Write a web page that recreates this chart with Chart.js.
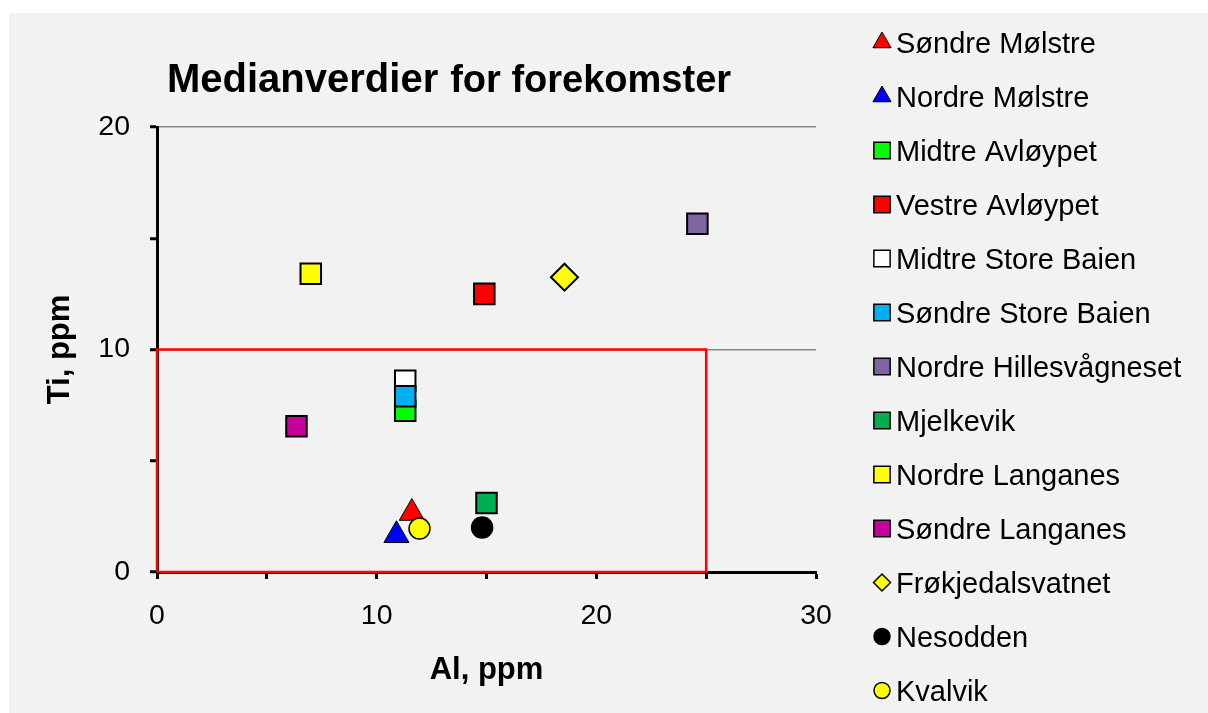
<!DOCTYPE html>
<html>
<head>
<meta charset="utf-8">
<script src="https://cdn.jsdelivr.net/npm/chart.js"></script>
<style>
html,body{margin:0;padding:0;background:#fff;overflow:hidden;}
#c{display:block;}
</style>
</head>
<body>
<canvas id="c" width="1208" height="713"></canvas>
<script>
// ---- data ----
const seriesNames = ["Søndre Mølstre","Nordre Mølstre","Midtre Avløypet","Vestre Avløypet","Midtre Store Baien","Søndre Store Baien","Nordre Hillesvågneset","Mjelkevik","Nordre Langanes","Søndre Langanes","Frøkjedalsvatnet","Nesodden","Kvalvik"];
const alValues = [11.6, 10.9, 11.3, 14.9, 11.3, 11.3, 24.6, 15.0, 7.0, 6.35, 18.55, 14.8, 11.95];
const tiValues = [2.65, 1.65, 7.25, 12.5, 8.6, 7.9, 15.65, 3.1, 13.4, 6.55, 13.25, 2.0, 1.95];
const pointStyles = ["triangle","triangle","rect","rect","rect","rect","rect","rect","rect","rect","rectRot","circle","circle"];
const fillColors = ["#ff0000","#0000ff","#00ff00","#ff0000","#ffffff","#00b0f0","#8064a2","#00b050","#ffff00","#c8009a","#ffff00","#000000","#ffff00"];
const xTickLabels = [0, 10, 20, 30];
const yTickLabels = [0, 10, 20];
const boxAl = [0, 0, 25, 25, 0];
const boxTi = [0, 10, 10, 0, 0];
const titleMain = "Medianverdier";
const titleRest = "for forekomster";
const xTitle = "Al, ppm";
const yTitle = "Ti, ppm";

// ---- styles ----
const FONT = "'Liberation Sans', Arial, sans-serif";
const plotRadius = {triangle: 14.5, rect: 14.5, rectRot: 13.5, circle: 10.5};
const plotBorder = {triangle: 1, rect: 2, rectRot: 2, circle: 1.5};
const legRadius = {triangle: 10.5, rect: 11.5, rectRot: 8.5, circle: 8};
const legBorder = {triangle: 1, rect: 1.5, rectRot: 1.5, circle: 1.5};

const datasets = seriesNames.map((name, i) => ({
  label: name,
  data: [{x: alValues[i], y: tiValues[i]}],
  pointStyle: pointStyles[i],
  backgroundColor: fillColors[i],
  borderColor: "#000",
  pointRadius: plotRadius[pointStyles[i]],
  pointHoverRadius: plotRadius[pointStyles[i]],
  pointBorderWidth: plotBorder[pointStyles[i]],
  pointHoverBorderWidth: plotBorder[pointStyles[i]],
  order: -i,
  clip: false
}));
datasets.push({
  label: "_box",
  data: boxAl.map((x, k) => ({x: x, y: boxTi[k]})),
  showLine: true,
  borderColor: "#ff0000",
  borderWidth: 2.5,
  pointRadius: 0,
  pointHoverRadius: 0,
  fill: false,
  tension: 0,
  order: 100,
  clip: false
});

function drawMarker(ctx, style, r, bw, x, y) {
  if (Chart.helpers && Chart.helpers.drawPoint) {
    Chart.helpers.drawPoint(ctx, {pointStyle: style, radius: r, rotation: 0, borderWidth: bw}, x, y);
    return;
  }
  ctx.beginPath();
  if (style === "circle") ctx.arc(x, y, r, 0, Math.PI * 2);
  else if (style === "rect") { const s = r * Math.SQRT1_2; ctx.rect(x - s, y - s, 2 * s, 2 * s); }
  else if (style === "rectRot") { ctx.moveTo(x, y - r); ctx.lineTo(x + r, y); ctx.lineTo(x, y + r); ctx.lineTo(x - r, y); ctx.closePath(); }
  else { ctx.moveTo(x, y - r); ctx.lineTo(x + r * 0.866, y + r / 2); ctx.lineTo(x - r * 0.866, y + r / 2); ctx.closePath(); }
  ctx.fill(); if (bw > 0) ctx.stroke();
}

const bgPlugin = {
  id: "bg",
  beforeDraw(chart) {
    const ctx = chart.ctx;
    ctx.save();
    ctx.fillStyle = "#ffffff";
    ctx.fillRect(0, 0, chart.width, chart.height);
    ctx.fillStyle = "#f2f2f2";
    ctx.fillRect(9, 13, chart.width - 9, chart.height - 13);
    ctx.restore();
  }
};

const titlePlugin = {
  id: "mixedTitle",
  afterDraw(chart) {
    const ctx = chart.ctx;
    ctx.save();
    ctx.fillStyle = "#000";
    ctx.textBaseline = "alphabetic";
    ctx.textAlign = "left";
    ctx.font = "bold 40px " + FONT;
    ctx.fillText(titleMain, 167, 92);
    const w = ctx.measureText(titleMain).width;
    ctx.font = "bold 38px " + FONT;
    ctx.fillText(titleRest, 167 + w + 12, 92);
    ctx.restore();
  }
};

const legendPlugin = {
  id: "sideLegend",
  afterDraw(chart) {
    const ctx = chart.ctx;
    ctx.save();
    chart.data.datasets.forEach((ds, i) => {
      if (ds.label === "_box") return;
      const cy = 42.5 + 54 * i;
      ctx.fillStyle = ds.backgroundColor;
      ctx.strokeStyle = "#000";
      ctx.lineWidth = legBorder[ds.pointStyle];
      drawMarker(ctx, ds.pointStyle, legRadius[ds.pointStyle], legBorder[ds.pointStyle], 882, cy);
      ctx.fillStyle = "#000";
      ctx.font = "29px " + FONT;
      ctx.textBaseline = "alphabetic";
      ctx.textAlign = "left";
      ctx.fillText(ds.label, 896, cy + 10.4);
    });
    ctx.restore();
  }
};

new Chart(document.getElementById("c"), {
  type: "scatter",
  data: {datasets: datasets},
  plugins: [bgPlugin, titlePlugin, legendPlugin],
  options: {
    responsive: false,
    animation: false,
    devicePixelRatio: 1,
    layout: {padding: {left: 0, top: 127, right: 392, bottom: 0}},
    plugins: {legend: {display: false}, tooltip: {enabled: false}, title: {display: false}},
    scales: {
      x: {
        type: "linear", min: 0, max: 30,
        ticks: {
          stepSize: 5, autoSkip: false, maxRotation: 0, padding: 20,
          color: "#000", font: {family: FONT, size: 28.5},
          callback: v => xTickLabels.includes(v) ? String(v) : ""
        },
        grid: {color: "rgba(0,0,0,0)", drawTicks: true, tickLength: 7, tickColor: "#000", tickWidth: 3},
        border: {color: "#000", width: 3},
        title: {display: true, text: xTitle, color: "#000", font: {family: FONT, size: 31, weight: "bold"}, padding: {top: 0, bottom: 24}},
        afterFit: s => { s.height = 141; }
      },
      y: {
        type: "linear", min: 0, max: 20,
        ticks: {
          stepSize: 5, autoSkip: false, padding: 20,
          color: "#000", font: {family: FONT, size: 28.5},
          callback: v => yTickLabels.includes(v) ? String(v) : ""
        },
        grid: {
          color: c => (c.tick && (c.tick.value === 10 || c.tick.value === 20)) ? "#868686" : "rgba(0,0,0,0)",
          lineWidth: 1.5, drawTicks: true, tickLength: 7, tickColor: "#000", tickWidth: 3
        },
        border: {color: "#000", width: 3},
        title: {display: true, text: yTitle, color: "#000", font: {family: FONT, size: 31, weight: "bold"}, padding: {top: 42, bottom: 0}},
        afterFit: s => { s.width = 157; }
      }
    }
  }
});
</script>
</body>
</html>
